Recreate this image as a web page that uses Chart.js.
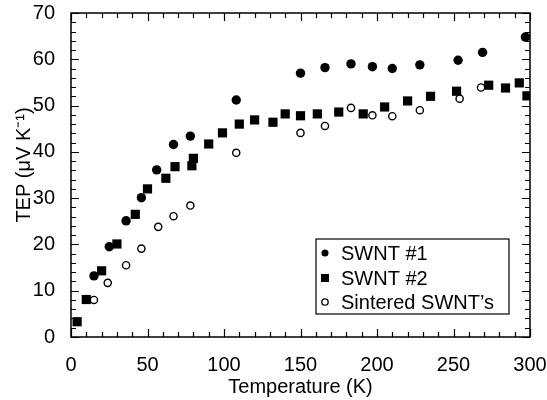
<!DOCTYPE html>
<html>
<head>
<meta charset="utf-8">
<script src="https://cdn.jsdelivr.net/npm/chart.js@4/dist/chart.umd.min.js"></script>
<style>
html, body { margin: 0; padding: 0; background: #fff; }
#wrap { width: 547px; height: 400px; }
</style>
</head>
<body>
<div id="wrap"><canvas id="myChart"></canvas></div>
<script>
// values
var swnt1_T = [15, 25, 36, 46, 56, 67, 78, 108, 150, 166, 183, 197, 210, 228, 253, 269, 297];
var swnt1_TEP = [13.2, 19.5, 25.1, 30.1, 36.1, 41.6, 43.4, 51.2, 57.0, 58.2, 59.0, 58.4, 58.0, 58.8, 59.8, 61.5, 64.8];

var swnt2_T = [4, 10, 20, 30, 42, 50, 62, 68, 79, 80, 90, 99, 110, 120, 132, 140, 150, 161, 175, 191, 205, 220, 235, 252, 273, 284, 293, 298];
var swnt2_TEP = [3.3, 8.1, 14.3, 20.1, 26.5, 32.0, 34.3, 36.8, 37.0, 38.6, 41.7, 44.1, 46.0, 46.9, 46.4, 48.2, 47.8, 48.2, 48.6, 48.2, 49.7, 51.0, 52.0, 53.1, 54.4, 53.8, 54.9, 52.1];

var sint_T = [15, 24, 36, 46, 57, 67, 78, 108, 150, 166, 183, 197, 210, 228, 254, 268];
var sint_TEP = [8.0, 11.7, 15.5, 19.1, 23.8, 26.1, 28.4, 39.8, 44.1, 45.6, 49.5, 47.9, 47.7, 49.0, 51.5, 53.9];

var seriesNames = ["SWNT #1", "SWNT #2", "Sintered SWNT\u2019s"];
var xTicks = [0, 50, 100, 150, 200, 250, 300];
var yTicks = [0, 10, 20, 30, 40, 50, 60, 70];

function pairs(xs, ys) {
    var out = [];
    for (var i = 0; i < xs.length; i++) {
        out.push({x: xs[i], y: ys[i]});
    }
    return out;
}

// inward ticks on all four sides plus the frame
var frameTicks = {
    id: 'frameTicks',
    afterDatasetsDraw: function(chart) {
        var ctx = chart.ctx;
        var a = chart.chartArea;
        var xs = chart.scales.x;
        var ys = chart.scales.y;
        ctx.save();
        ctx.strokeStyle = '#000';
        ctx.lineWidth = 1.5;
        ctx.strokeRect(a.left, a.top, a.right - a.left, a.bottom - a.top);
        ctx.lineWidth = 1.2;
        ctx.beginPath();
        for (var v = xs.min; v <= xs.max; v += 10) {
            var px = Math.round(xs.getPixelForValue(v)) + 0.5;
            var len = (v % 50 == 0) ? 8 : 5;
            ctx.moveTo(px, a.bottom); ctx.lineTo(px, a.bottom - len);
            ctx.moveTo(px, a.top); ctx.lineTo(px, a.top + len);
        }
        for (var w = ys.min; w <= ys.max; w += 2) {
            var py = Math.round(ys.getPixelForValue(w)) + 0.5;
            var len2 = (w % 10 == 0) ? 8 : 5;
            ctx.moveTo(a.left, py); ctx.lineTo(a.left + len2, py);
            ctx.moveTo(a.right, py); ctx.lineTo(a.right - len2, py);
        }
        ctx.stroke();
        ctx.restore();
    }
};

// boxed legend inside the plot, lower right
var boxLegend = {
    id: 'boxLegend',
    afterDraw: function(chart) {
        var ctx = chart.ctx;
        var a = chart.chartArea;
        var right = a.right - 21;
        var bottom = a.bottom - 23;
        var left = right - 193;
        var top = bottom - 75;
        ctx.save();
        ctx.fillStyle = '#fff';
        ctx.fillRect(left, top, right - left, bottom - top);
        ctx.strokeStyle = '#000';
        ctx.lineWidth = 1.2;
        ctx.strokeRect(left, top, right - left, bottom - top);
        ctx.font = '20px "Liberation Sans", Arial, sans-serif';
        ctx.textBaseline = 'middle';
        ctx.fillStyle = '#000';
        var rows = [top + 14, top + 39, top + 63];
        for (var i = 0; i < 3; i++) {
            var cx = left + 9, cy = rows[i];
            ctx.beginPath();
            if (i == 0) {
                ctx.arc(cx, cy, 3.5, 0, Math.PI * 2);
                ctx.fill();
            } else if (i == 1) {
                ctx.fillRect(cx - 4, cy - 4, 8, 8);
            } else {
                ctx.lineWidth = 1.3;
                ctx.arc(cx, cy, 3.2, 0, Math.PI * 2);
                ctx.stroke();
            }
            ctx.fillText(chart.data.datasets[i].label, left + 25, cy + 1);
        }
        ctx.restore();
    }
};

var ctx = document.getElementById('myChart').getContext('2d');
var tickFont = {family: '"Liberation Sans", Arial, sans-serif', size: 20};

var myChart = new Chart(ctx, {
    type: 'scatter',
    data: {
        datasets: [
        {
            label: seriesNames[0],
            data: pairs(swnt1_T, swnt1_TEP),
            pointStyle: 'circle',
            pointRadius: 4.7,
            backgroundColor: '#000',
            borderColor: '#000',
            borderWidth: 0
        },
        {
            label: seriesNames[1],
            data: pairs(swnt2_T, swnt2_TEP),
            pointStyle: 'rect',
            pointRadius: 6.5,
            backgroundColor: '#000',
            borderColor: '#000',
            borderWidth: 0
        },
        {
            label: seriesNames[2],
            data: pairs(sint_T, sint_TEP),
            pointStyle: 'circle',
            pointRadius: 3.6,
            backgroundColor: '#fff',
            borderColor: '#000',
            borderWidth: 1.4
        }]
    },
    options: {
        responsive: true,
        maintainAspectRatio: false,
        animation: false,
        layout: {padding: {left: 0, right: 17, top: 13, bottom: 0}},
        plugins: {
            legend: {display: false},
            tooltip: {enabled: false}
        },
        scales: {
            x: {
                type: 'linear',
                min: 0,
                max: 300,
                afterBuildTicks: function(scale) {
                    scale.ticks = xTicks.map(function(v) { return {value: v}; });
                },
                afterFit: function(scale) {
                    scale.height = 63;
                    scale.paddingLeft = 0;
                    scale.paddingRight = 0;
                },
                grid: {display: false},
                border: {display: false},
                ticks: {color: '#000', font: tickFont, padding: 8, maxRotation: 0},
                title: {
                    display: true,
                    text: 'Temperature (K)',
                    color: '#000',
                    font: tickFont,
                    padding: {top: 0, bottom: 1}
                }
            },
            y: {
                type: 'linear',
                min: 0,
                max: 70,
                afterBuildTicks: function(scale) {
                    scale.ticks = yTicks.map(function(v) { return {value: v}; });
                },
                afterFit: function(scale) {
                    scale.width = 71;
                    scale.paddingTop = 0;
                    scale.paddingBottom = 0;
                },
                grid: {display: false},
                border: {display: false},
                ticks: {color: '#000', font: tickFont, padding: 8},
                title: {
                    display: true,
                    text: '\u2002\u2002TEP (\u03bcV K\u207b\u00b9)',
                    color: '#000',
                    font: tickFont,
                    padding: {top: 12, bottom: 0}
                }
            }
        }
    },
    plugins: [frameTicks, boxLegend]
});
</script>
</body>
</html>
